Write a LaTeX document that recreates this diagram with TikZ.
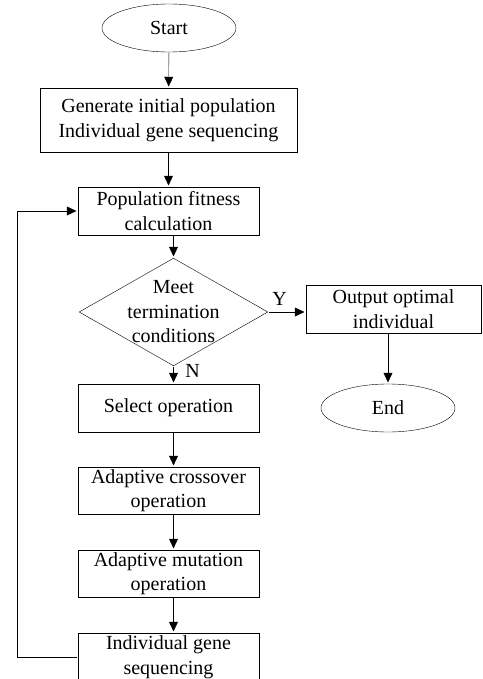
\documentclass[tikz,border=0pt]{standalone}
\usepackage{fontspec}
\setmainfont{Liberation Serif}
\usetikzlibrary{arrows.meta,shapes.geometric}

\begin{document}
\begin{tikzpicture}[x=1pt,y=-1pt]
\tikzset{line width=1.2pt,>={Triangle[length=11pt,width=10pt]},
  txt/.style={font=\fontsize{20}{24.5}\selectfont,align=center},
  box/.style={txt,draw,rectangle,minimum width=181pt,minimum height=48pt,inner sep=0pt},
  terminal/.style={txt,draw,ellipse,minimum width=134pt,minimum height=48pt,inner sep=0pt},
  decision/.style={draw,diamond,minimum width=189pt,minimum height=108pt,inner sep=0pt}}
\useasboundingbox (0,0) rectangle (482,679);

\node[terminal] (start) at (169,28) {Start};
\node[box,minimum width=257pt,minimum height=64pt] (init) at (168.5,120) {Generate initial population\\Individual gene sequencing};
\node[box] (fit) at (168.5,211) {Population fitness\\calculation};
\node[decision] (meet) at (173.5,312) {};
\node[txt] (meettext) at (meet) {Meet\\termination\\conditions};
\node[box,minimum width=175pt] (out) at (393.5,309) {Output optimal\\individual};
\node[terminal] (end) at (388,408) {End};
\node[box] (sel) at (168.5,408) {Select operation};
\node[box,minimum height=47pt] (cross) at (168.5,490.5) {Adaptive crossover\\operation};
\node[box,minimum height=47pt] (mut) at (168.5,573.5) {Adaptive mutation\\operation};
\node[box] (seq) at (168.5,657) {Individual gene\\sequencing};
\coordinate (back) at (17,0);

\draw[->] (start) -- (init);
\draw[->] (init) -- (fit);
\draw[->] (meet.north |- fit.south) -- (meet.north);
\draw[->] (meet.east) -- node[txt,above=3pt,pos=0.3] (yes) {Y} (meet.east -| out.west);
\draw[->] (end.north |- out.south) -- (end.north);
\draw[->] (meet.south) -- node[txt,right=8pt,pos=0.25] (no) {N} (meet.south |- sel.north);
\draw[->] (meet.south |- sel.south) -- (meet.south |- cross.north);
\draw[->] (meet.south |- cross.south) -- (meet.south |- mut.north);
\draw[->] (meet.south |- mut.south) -- (meet.south |- seq.north);
\draw[->] (seq.west) -- (seq.west -| back) |- (fit.west);

\end{tikzpicture}
\end{document}
